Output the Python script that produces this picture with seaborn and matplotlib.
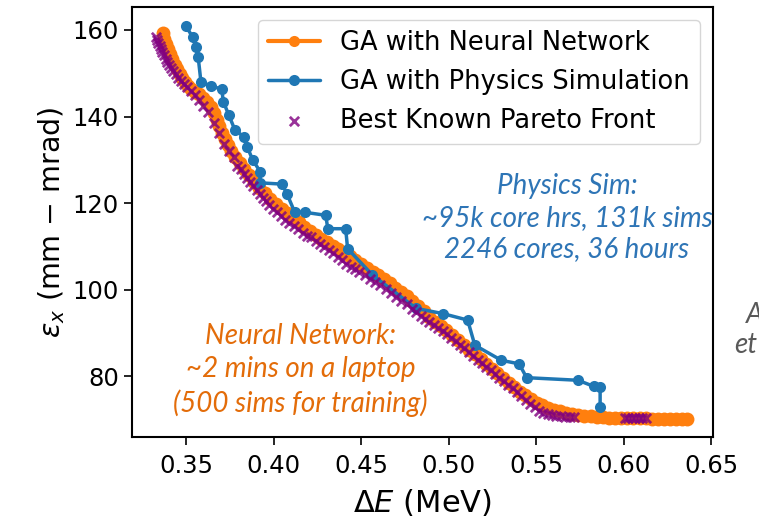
import matplotlib
matplotlib.use("Agg")
import matplotlib.pyplot as plt
import seaborn as sns
import pandas as pd

# GA run driven by the neural-network surrogate
nn_energy_spread = [
    0.3365, 0.3375, 0.3385, 0.3395, 0.3408, 0.3420, 0.3433, 0.3447, 0.3462, 0.3478,
    0.3495, 0.3512, 0.3530, 0.3550, 0.3572, 0.3595, 0.3620, 0.3642, 0.3660, 0.3676,
    0.3690, 0.3705, 0.3720, 0.3738, 0.3758, 0.3780, 0.3805, 0.3830, 0.3858, 0.3887,
    0.3917, 0.3948, 0.3980, 0.4012, 0.4045, 0.4078, 0.4110, 0.4142, 0.4175, 0.4208,
    0.4240, 0.4272, 0.4305, 0.4338, 0.4370, 0.4402, 0.4435, 0.4467, 0.4500, 0.4532,
    0.4565, 0.4598, 0.4630, 0.4662, 0.4695, 0.4727, 0.4760, 0.4792, 0.4825, 0.4857,
    0.4890, 0.4922, 0.4955, 0.4987, 0.5020, 0.5052, 0.5085, 0.5117, 0.5150, 0.5182,
    0.5214, 0.5246, 0.5278, 0.5310, 0.5342, 0.5374, 0.5406, 0.5438, 0.5470, 0.5502,
    0.5535, 0.5568, 0.5600, 0.5635, 0.5670, 0.5705, 0.5740, 0.5775, 0.5810, 0.5845,
    0.5880, 0.5915, 0.5950, 0.5985, 0.6020, 0.6055, 0.6090, 0.6125, 0.6160, 0.6195,
    0.6230, 0.6265, 0.6300, 0.6335, 0.6360,
]
nn_emittance = [
    159.2, 158.0, 156.8, 155.6, 154.4, 153.2, 152.0, 150.9, 149.8, 148.8,
    147.9, 147.1, 146.4, 145.7, 145.1, 144.4, 143.4, 142.2, 140.8, 139.3,
    137.8, 136.3, 134.8, 133.4, 132.0, 130.6, 129.2, 127.8, 126.4, 125.0,
    123.6, 122.3, 121.0, 119.8, 118.7, 117.7, 116.7, 115.7, 114.6, 113.6,
    112.6, 111.8, 111.0, 110.2, 109.5, 108.6, 107.7, 106.8, 105.9, 105.0,
    104.2, 103.3, 102.4, 101.5, 100.5, 99.5, 98.5, 97.4, 96.3, 95.0,
    93.7, 92.6, 91.6, 90.6, 89.5, 88.4, 87.3, 86.2, 85.1, 84.0,
    82.9, 81.8, 80.7, 79.6, 78.5, 77.5, 76.5, 75.6, 74.7, 73.9,
    73.3, 72.8, 72.3, 71.9, 71.6, 71.3, 71.1, 70.9, 70.8, 70.7,
    70.6, 70.5, 70.5, 70.4, 70.4, 70.3, 70.3, 70.3, 70.2, 70.2,
    70.2, 70.2, 70.1, 70.1, 70.1,
]

# GA run driven by the full physics simulation
sim_energy_spread = [
    0.3498, 0.3536, 0.3555, 0.3568, 0.3584, 0.3640, 0.3703, 0.3712, 0.3744, 0.3778,
    0.3830, 0.3848, 0.3881, 0.3924, 0.3919, 0.4047, 0.4076, 0.4119, 0.4176, 0.4297,
    0.4309, 0.4411, 0.4422, 0.4564, 0.4814, 0.4966, 0.5108, 0.5149, 0.5301, 0.5402,
    0.5445, 0.5739, 0.5828, 0.5865, 0.5865,
]
sim_emittance = [
    160.9, 158.4, 156.1, 153.8, 148.0, 147.1, 146.3, 143.4, 140.3, 136.9,
    135.3, 133.0, 129.9, 127.2, 124.7, 124.4, 122.1, 118.0, 117.9, 117.2,
    114.1, 114.1, 109.5, 103.4, 95.7, 94.5, 93.0, 87.2, 83.7, 82.9,
    79.7, 79.1, 77.7, 77.5, 72.9,
]

# Best known Pareto front
front_energy_spread = [
    0.3328, 0.3334, 0.3341, 0.3348, 0.3356, 0.3364, 0.3373, 0.3382, 0.3392, 0.3403,
    0.3415, 0.3427, 0.3440, 0.3455, 0.3470, 0.3487, 0.3505, 0.3525, 0.3548, 0.3572,
    0.3596, 0.3625, 0.3660, 0.3690, 0.3715, 0.3745, 0.3772, 0.3792, 0.3812, 0.3830,
    0.3848, 0.3866, 0.3884, 0.3902, 0.3920, 0.3938, 0.3956, 0.3975, 0.3995, 0.4018,
    0.4042, 0.4066, 0.4090, 0.4115, 0.4140, 0.4165, 0.4190, 0.4215, 0.4240, 0.4265,
    0.4290, 0.4315, 0.4340, 0.4365, 0.4390, 0.4415, 0.4440, 0.4465, 0.4490, 0.4520,
    0.4550, 0.4580, 0.4610, 0.4640, 0.4670, 0.4700, 0.4730, 0.4760, 0.4790, 0.4815,
    0.4840, 0.4865, 0.4890, 0.4915, 0.4940, 0.4965, 0.4990, 0.5015, 0.5040, 0.5065,
    0.5090, 0.5115, 0.5140, 0.5165, 0.5190, 0.5215, 0.5240, 0.5265, 0.5290, 0.5315,
    0.5340, 0.5365, 0.5390, 0.5415, 0.5440, 0.5465, 0.5490, 0.5515, 0.5540, 0.5565,
    0.5590, 0.5615, 0.5640, 0.5665, 0.5690, 0.5715, 0.6005, 0.6025, 0.6045, 0.6065,
    0.6085, 0.6105, 0.6125,
]
front_emittance = [
    158.4, 157.7, 157.0, 156.3, 155.6, 154.9, 154.2, 153.4, 152.7, 152.0,
    151.3, 150.6, 149.8, 149.0, 148.3, 147.5, 146.8, 146.0, 145.0, 143.8,
    142.5, 141.0, 138.5, 136.2, 133.6, 132.0, 130.6, 128.6, 127.8, 126.8,
    125.9, 124.9, 123.9, 123.0, 122.1, 121.3, 120.4, 119.6, 118.7, 117.9,
    117.0, 116.2, 115.5, 114.8, 114.0, 113.2, 112.4, 112.1, 111.3, 110.6,
    109.8, 109.1, 108.4, 107.6, 106.8, 105.9, 105.2, 104.8, 104.1, 103.4,
    102.6, 101.8, 101.0, 100.2, 99.3, 98.4, 97.5, 96.6, 95.6, 94.8,
    94.0, 93.2, 92.5, 91.8, 91.1, 90.4, 89.7, 88.9, 88.1, 87.3,
    86.5, 85.6, 84.7, 83.8, 83.0, 82.2, 81.4, 80.5, 79.7, 78.9,
    78.1, 77.3, 76.4, 75.5, 74.6, 73.7, 72.9, 72.1, 71.6, 71.2,
    71.0, 70.9, 70.8, 70.7, 70.7, 70.6, 70.5, 70.5, 70.4, 70.4,
    70.4, 70.3, 70.3,
]

x_ticks = [0.35, 0.40, 0.45, 0.50, 0.55, 0.60, 0.65]
y_ticks = [80, 100, 120, 140, 160]

sns.set_style("ticks", {
    "axes.edgecolor": "black",
    "text.color": "black",
    "xtick.color": "black",
    "ytick.color": "black",
    "axes.labelcolor": "black",
})
plt.rcParams["font.family"] = ["DejaVu Sans"]

nn_df = pd.DataFrame({"dE": nn_energy_spread, "emit": nn_emittance})
sim_df = pd.DataFrame({"dE": sim_energy_spread, "emit": sim_emittance})
front_df = pd.DataFrame({"dE": front_energy_spread, "emit": front_emittance})

fig = plt.figure(figsize=(7.59, 5.26), dpi=100)
ax = fig.add_axes([0.1739, 0.1692, 0.7655, 0.8175])

orange = "#ff7f0e"
blue = "#1f77b4"

sns.lineplot(data=nn_df, x="dE", y="emit", sort=False, estimator=None, ax=ax,
             color=orange, lw=3, marker="o", markersize=10,
             markeredgecolor=orange, markeredgewidth=0,
             label="GA with Neural Network", zorder=2)
sns.lineplot(data=sim_df, x="dE", y="emit", sort=False, estimator=None, ax=ax,
             color=blue, lw=2.5, marker="o", markersize=8,
             markeredgecolor=blue, markeredgewidth=0,
             label="GA with Physics Simulation", zorder=3)
sns.scatterplot(data=front_df, x="dE", y="emit", ax=ax, marker="x",
                color="purple", s=45, linewidth=2, alpha=0.8,
                label="Best Known Pareto Front", zorder=4)

ax.set_xlim(0.319, 0.651)
ax.set_ylim(66, 165.3)
ax.set_xticks(x_ticks)
ax.set_xticklabels([f"{t:.2f}" for t in x_ticks])
ax.set_yticks(y_ticks)
ax.tick_params(labelsize=17.5, length=6, width=1.2, direction="out")
ax.tick_params(axis="x", pad=6)
for s in ax.spines.values():
    s.set_linewidth(1.5)
    s.set_visible(True)

ax.set_xlabel(r"$\Delta E$ (MeV)", fontsize=22, labelpad=7)
ax.set_ylabel("$ε_x$ (mm − mrad)", fontsize=20.5)

leg = ax.legend(loc="upper right", fontsize=18.5, handlelength=2.0, scatterpoints=1,
                frameon=True, fancybox=True, framealpha=0.8, edgecolor="0.8")
for h in leg.legend_handles[:2]:
    h.set_markersize(8)

note_font = {"family": ["Lato", "DejaVu Sans"], "style": "italic"}
ax.text(0.5676, 116.6, "Physics Sim:\n~95k core hrs, 131k sims\n2246 cores, 36 hours",
        color="#2e75b6", fontsize=20, ha="center", va="center",
        linespacing=1.26, fontdict=note_font)
ax.text(0.4153, 81.5, "Neural Network:\n~2 mins on a laptop\n(500 sims for training)",
        color="#e36c09", fontsize=20, ha="center", va="center",
        linespacing=1.33, fontdict=note_font)

# edge of the neighbouring caption on the slide
fig.text(746 / 759, 1 - 315 / 526, "A", color="#595959", fontsize=20,
         ha="left", va="center", fontdict=note_font)
fig.text(734 / 759, 1 - 345 / 526, "et", color="#595959", fontsize=20,
         ha="left", va="center", fontdict=note_font)

fig.savefig("out.png", dpi=100)
